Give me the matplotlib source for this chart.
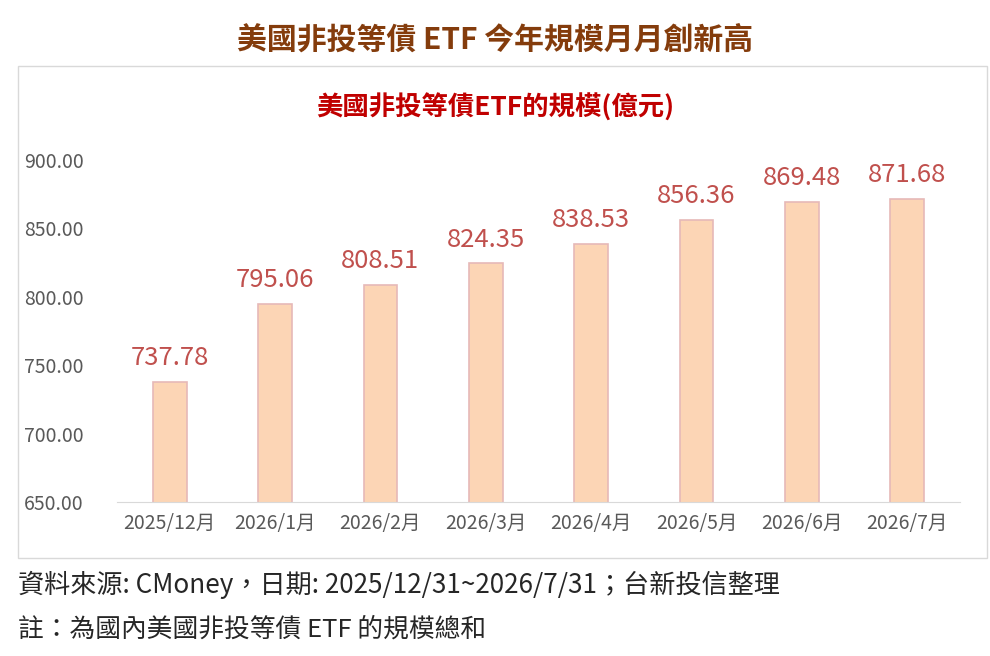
import matplotlib
matplotlib.use("Agg")
import matplotlib.pyplot as plt
from matplotlib.patches import Rectangle

plt.rcParams['font.family'] = ['Noto Sans CJK TC', 'DejaVu Sans']

categories = ["2025/12月", "2026/1月", "2026/2月", "2026/3月", "2026/4月", "2026/5月", "2026/6月", "2026/7月"]
values = [737.78, 795.06, 808.51, 824.35, 838.53, 856.36, 869.48, 871.68]
yticks = [650, 700, 750, 800, 850, 900]

fig = plt.figure(figsize=(9.9, 6.56), dpi=100)
fig.patches.append(Rectangle((18/990, 1-558/656), 969/990, 492/656, transform=fig.transFigure,
                             fill=False, edgecolor='#D9D9D9', linewidth=1))
ax = fig.add_axes([117/990, 1-502/656, 843/990, 342/656])
x = range(len(categories))
ax.bar(x, values, width=0.32, color='#FCD5B5', edgecolor='#E6B9B8', linewidth=1.2, bottom=0)
ax.set_ylim(650, 900)
ax.set_xlim(-0.5, len(categories)-0.5)
ax.set_yticks(yticks)
ax.set_yticklabels([f"{v:.2f}" for v in yticks], fontsize=14, color='#595959')
ax.set_xticks(list(x))
ax.set_xticklabels(categories, fontsize=14, color='#595959')
for s in ['top', 'right', 'left']:
    ax.spines[s].set_visible(False)
ax.spines['bottom'].set_color('#D9D9D9')
ax.tick_params(length=0, pad=8)
ax.tick_params(axis='y', pad=24)
for i, v in zip(x, values):
    ax.text(i, v + 8, f"{v:.2f}", ha='center', va='bottom', fontsize=18.5, color='#C0504D', clip_on=False)

fig.text(0.5, 1-40/656, "美國非投等債 ETF 今年規模月月創新高", ha='center', va='center',
         fontsize=21.5, fontweight='bold', color='#843C0C')
fig.text(0.5, 1-108/656, "美國非投等債ETF的規模(億元)", ha='center', va='center',
         fontsize=19, fontweight='bold', color='#C00000')
fig.text(18/990, 1-585/656, "資料來源: CMoney，日期: 2025/12/31~2026/7/31；台新投信整理", ha='left', va='center',
         fontsize=18.8, color='#262626')
fig.text(18/990, 1-630/656, "註：為國內美國非投等債 ETF 的規模總和", ha='left', va='center',
         fontsize=18.5, color='#262626')
fig.savefig("out.png", dpi=100)
